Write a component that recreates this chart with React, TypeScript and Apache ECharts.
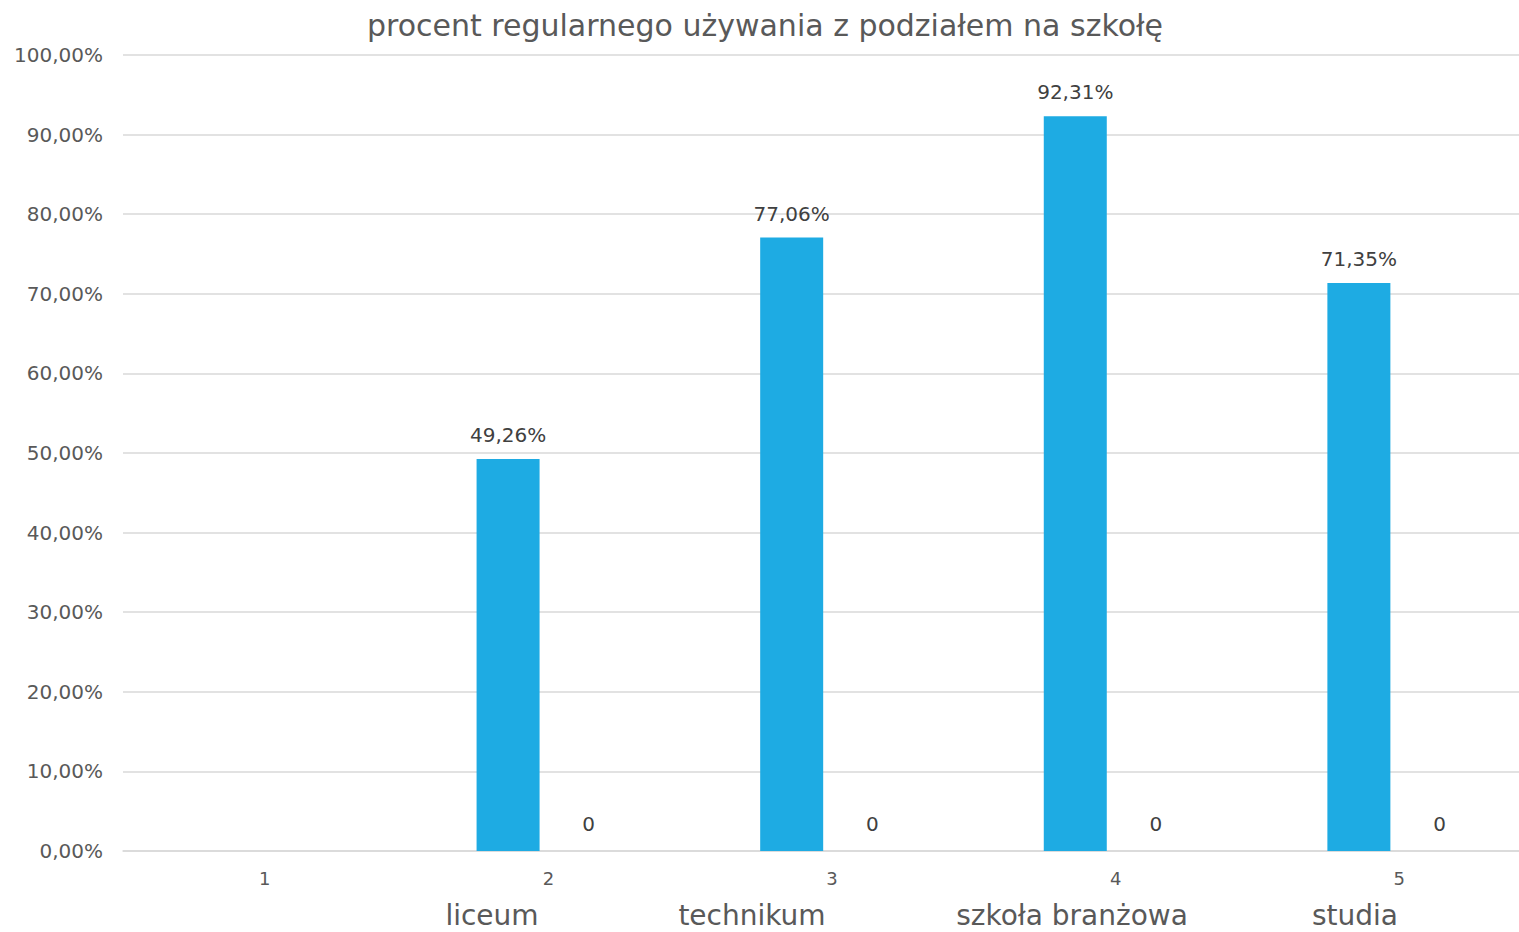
import React, { useEffect, useRef } from "react";
import * as echarts from "echarts";

const titleText = "procent regularnego używania z podziałem na szkołę";
const categories = ["1", "2", "3", "4", "5"];
const usageValues: (number | null)[] = [null, 49.26, 77.06, 92.31, 71.35];
const zeroValues: (number | null)[] = [null, 0, 0, 0, 0];
const schoolLabels = ["liceum", "technikum", "szkoła branżowa", "studia"];
const yTicks = { min: 0, max: 100, interval: 10 };

const FONT = "'DejaVu Sans', 'Noto Sans', sans-serif";
const fmt = (v: number) => v.toFixed(2).replace(".", ",") + "%";

export default function App() {
  const ref = useRef<HTMLDivElement>(null);
  useEffect(() => {
    if (!ref.current) return;
    const chart = echarts.init(ref.current, null, { renderer: "svg" });
    const labelX = [492, 752, 1072, 1355];
    chart.setOption({
      animation: false,
      backgroundColor: "#ffffff",
      textStyle: { fontFamily: FONT },
      title: {
        text: titleText,
        left: 760,
        textAlign: "center",
        top: 5,
        textStyle: { fontSize: 30, fontWeight: "normal", color: "#595959", fontFamily: FONT },
      },
      grid: { left: 123, right: 0, top: 55, bottom: 81, containLabel: false },
      xAxis: {
        type: "category",
        data: categories,
        axisLine: { show: true, lineStyle: { color: "#d9d9d9", width: 1.5 } },
        axisTick: { show: false },
        axisLabel: { color: "#595959", fontSize: 18, margin: 18, fontFamily: FONT },
      },
      yAxis: {
        type: "value",
        min: yTicks.min,
        max: yTicks.max,
        interval: yTicks.interval,
        axisLine: { show: false },
        axisTick: { show: false },
        splitLine: { lineStyle: { color: "#d9d9d9", width: 1.5 } },
        axisLabel: {
          color: "#595959",
          fontSize: 20,
          margin: 20,
          fontFamily: FONT,
          formatter: (v: number) => fmt(v),
        },
      },
      series: [
        {
          type: "bar",
          data: usageValues,
          barWidth: 63,
          barGap: "28%",
          itemStyle: { color: "#1eabe3" },
          label: {
            show: true,
            position: "top",
            distance: 14,
            color: "#404040",
            fontSize: 20,
            fontFamily: FONT,
            formatter: (p: any) => fmt(p.value),
          },
        },
        {
          type: "bar",
          data: zeroValues,
          barWidth: 63,
          barGap: "28%",
          itemStyle: { color: "#f28e2b" },
          label: {
            show: true,
            position: "top",
            distance: 17,
            color: "#404040",
            fontSize: 20,
            fontFamily: FONT,
            formatter: (p: any) => String(p.value),
          },
        },
      ],
      graphic: schoolLabels.map((t, i) => ({
        type: "text",
        x: labelX[i],
        y: 915,
        style: {
          text: t,
          fill: "#595959",
          fontSize: 28,
          fontFamily: FONT,
          align: "center",
          verticalAlign: "middle",
        },
      })),
    });
    return () => chart.dispose();
  }, []);
  return (
    <div style={{ position: "fixed", left: 0, top: 0, width: 1519, height: 932, overflow: "hidden" }}>
      <div ref={ref} style={{ width: 1541, height: 932 }} />
    </div>
  );
}
